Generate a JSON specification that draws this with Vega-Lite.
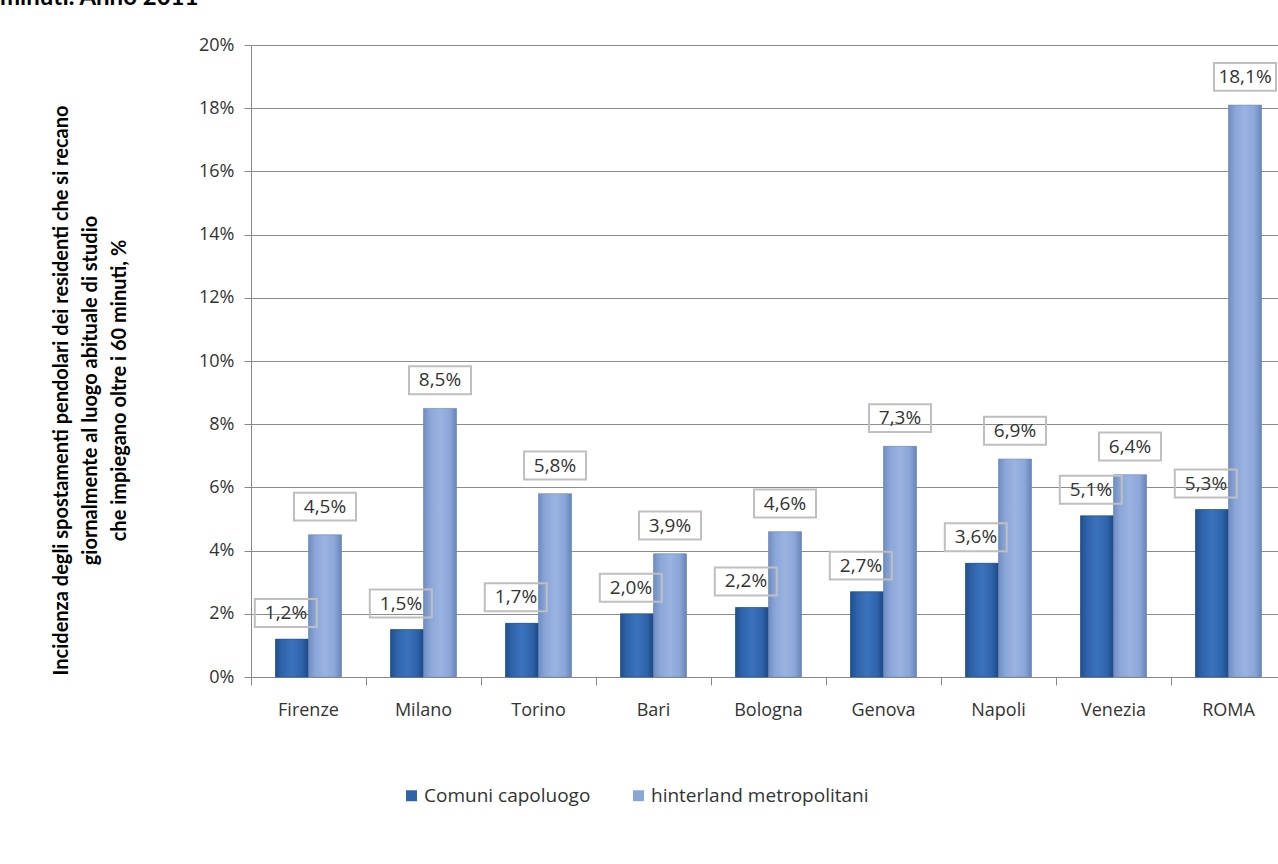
{
  "$schema": "https://vega.github.io/schema/vega-lite/v6.json",
  "width": 1027,
  "height": 632,
  "autosize": {"type": "none"},
  "padding": {"left": 251, "top": 45, "right": 0, "bottom": 187},
  "background": "white",
  "title": {
    "text": "minuti. Anno 2011",
    "anchor": "start",
    "frame": "group",
    "font": "Lato",
    "fontSize": 24,
    "fontWeight": "bold",
    "color": "#000000",
    "baseline": "alphabetic",
    "offset": 0,
    "dx": -251,
    "dy": -7
  },
  "config": {
    "locale": {"number": {"decimal": ",", "thousands": ".", "grouping": [3], "currency": ["", " €"]}},
    "view": {"stroke": null},
    "font": "Lato",
    "axis": {"labelFont": "Open Sans", "labelFontSize": 18, "labelColor": "#333333", "domainColor": "#888888", "tickColor": "#888888", "gridColor": "#8c8c8c", "gridWidth": 1}
  },
  "data": {
    "values": [
      {"city": "Firenze", "serie": "Comuni capoluogo", "v": 0.012},
      {"city": "Firenze", "serie": "hinterland metropolitani", "v": 0.045},
      {"city": "Milano", "serie": "Comuni capoluogo", "v": 0.015},
      {"city": "Milano", "serie": "hinterland metropolitani", "v": 0.085},
      {"city": "Torino", "serie": "Comuni capoluogo", "v": 0.017},
      {"city": "Torino", "serie": "hinterland metropolitani", "v": 0.058},
      {"city": "Bari", "serie": "Comuni capoluogo", "v": 0.020},
      {"city": "Bari", "serie": "hinterland metropolitani", "v": 0.039},
      {"city": "Bologna", "serie": "Comuni capoluogo", "v": 0.022},
      {"city": "Bologna", "serie": "hinterland metropolitani", "v": 0.046},
      {"city": "Genova", "serie": "Comuni capoluogo", "v": 0.027},
      {"city": "Genova", "serie": "hinterland metropolitani", "v": 0.073},
      {"city": "Napoli", "serie": "Comuni capoluogo", "v": 0.036},
      {"city": "Napoli", "serie": "hinterland metropolitani", "v": 0.069},
      {"city": "Venezia", "serie": "Comuni capoluogo", "v": 0.051},
      {"city": "Venezia", "serie": "hinterland metropolitani", "v": 0.064},
      {"city": "ROMA", "serie": "Comuni capoluogo", "v": 0.053},
      {"city": "ROMA", "serie": "hinterland metropolitani", "v": 0.181}
    ]
  },
  "encoding": {
    "x": {
      "field": "city", "type": "nominal", "sort": null,
      "scale": {"paddingInner": 0, "paddingOuter": 0, "range": [0, 1035]},
      "axis": {"title": null, "labelAngle": 0, "bandPosition": 0, "tickSize": 8, "labelPadding": 16, "grid": false, "domainColor": "#888888", "labelAlign": "center"}
    },
    "xOffset": {"field": "serie", "type": "nominal", "sort": ["Comuni capoluogo", "hinterland metropolitani"], "scale": {"paddingInner": 0, "paddingOuter": 0.742}},
    "y": {
      "field": "v", "type": "quantitative",
      "scale": {"domain": [0, 0.2]},
      "axis": {
        "format": ".0%", "values": [0, 0.02, 0.04, 0.06, 0.08, 0.1, 0.12, 0.14, 0.16, 0.18, 0.2],
        "labelOverlap": false,
        "grid": true, "tickSize": 7, "labelPadding": 10,
        "title": ["Incidenza degli spostamenti pendolari dei residenti che si recano", "giornalmente al luogo abituale di studio", "che impiegano oltre i 60 minuti, %"],
        "titleFont": "Lato", "titleFontSize": 20, "titleFontWeight": "bold", "titleColor": "#000000",
        "titleLineHeight": 29, "titleX": -180, "titleY": 345, "titleAngle": -90, "titleBaseline": "bottom"
      }
    }
  },
  "layer": [
    {
      "mark": {"type": "bar"},
      "encoding": {
        "color": {
          "field": "serie", "type": "nominal",
          "scale": {"domain": ["Comuni capoluogo", "hinterland metropolitani"], "range": ["#2f62a8", "#8aa6d6"]},
          "legend": {
            "title": null, "orient": "none", "legendX": 151, "legendY": 741, "direction": "horizontal",
            "symbolType": "square", "symbolSize": 120, "symbolStrokeWidth": 0, "labelLimit": 0,
            "labelFont": "Open Sans", "labelFontSize": 19, "labelColor": "#333333", "labelOffset": 3, "columnPadding": 38
          }
        }
      }
    },
    {
      "transform": [{"filter": "datum.serie === 'Comuni capoluogo'"}],
      "mark": {
        "type": "bar",
        "stroke": "#1d4a87", "strokeWidth": 0.5,
        "fill": {"gradient": "linear", "x1": 0, "y1": 0, "x2": 1, "y2": 0, "stops": [
          {"offset": 0, "color": "#1f4f8f"}, {"offset": 0.2, "color": "#2f64ab"}, {"offset": 0.5, "color": "#3b72bd"}, {"offset": 0.8, "color": "#2f64ab"}, {"offset": 1, "color": "#1c4885"}
        ]}
      }
    },
    {
      "transform": [{"filter": "datum.serie === 'hinterland metropolitani'"}],
      "mark": {
        "type": "bar",
        "stroke": "#6a86b8", "strokeWidth": 0.5,
        "fill": {"gradient": "linear", "x1": 0, "y1": 0, "x2": 1, "y2": 0, "stops": [
          {"offset": 0, "color": "#6f8cc1"}, {"offset": 0.2, "color": "#8aa6d8"}, {"offset": 0.5, "color": "#9ab3e0"}, {"offset": 0.8, "color": "#8aa6d8"}, {"offset": 1, "color": "#6883b6"}
        ]}
      }
    },
    {
      "transform": [{"filter": "datum.serie === 'Comuni capoluogo'"}],
      "mark": {"type": "point", "shape": "M-1.2,-1.29L0.8,-1.29L0.8,-0.39L-1.2,-0.39Z", "size": 3844, "filled": false, "stroke": "#bfbfbf", "strokeWidth": 2, "opacity": 1}
    },
    {
      "transform": [{"filter": "datum.serie === 'hinterland metropolitani'"}],
      "mark": {"type": "point", "shape": "M-1,-1.36L1,-1.36L1,-0.46L-1,-0.46Z", "size": 3844, "filled": false, "stroke": "#bfbfbf", "strokeWidth": 2, "opacity": 1}
    },
    {
      "transform": [{"filter": "datum.serie === 'Comuni capoluogo'"}],
      "mark": {"type": "text", "font": "Open Sans", "fontSize": 19, "color": "#333333", "dx": -6, "dy": -26, "baseline": "middle"},
      "encoding": {"text": {"field": "v", "type": "quantitative", "format": ".1%"}}
    },
    {
      "transform": [{"filter": "datum.serie === 'hinterland metropolitani'"}],
      "mark": {"type": "text", "font": "Open Sans", "fontSize": 19, "color": "#333333", "dy": -28, "baseline": "middle"},
      "encoding": {"text": {"field": "v", "type": "quantitative", "format": ".1%"}}
    }
  ]
}
